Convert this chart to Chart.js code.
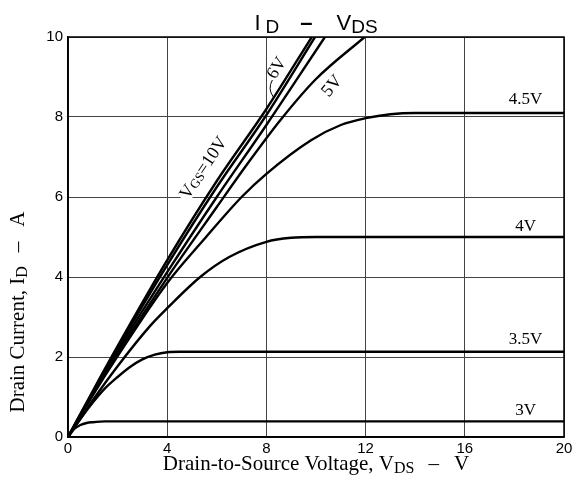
<!DOCTYPE html>
<html>
<head>
<meta charset="utf-8">
<script src="https://cdn.jsdelivr.net/npm/chart.js@4.4.1/dist/chart.umd.min.js"></script>
<style>
  html, body { margin: 0; padding: 0; background: #fff; }
  #wrap { width: 576px; height: 489px; }
</style>
</head>
<body>
<div id="wrap"><canvas id="idVdsChart" width="576" height="489"></canvas></div>
<script>
// axis ticks
const xTicks = [0, 4, 8, 12, 16, 20];
const yTicks = [0, 2, 4, 6, 8, 10];

// I_D (A) against V_DS (V), one pair of arrays per gate voltage
const vgs10X = [0, 1, 2, 4, 6, 8, 9.83];
const vgs10Y = [0, 1.15, 2.27, 4.42, 6.4, 8.2, 10];
const vgs8X = [0, 1, 2, 4, 6, 8, 9.96];
const vgs8Y = [0, 1.13, 2.22, 4.3, 6.25, 8.05, 10];
const vgs6X = [0, 1, 2, 4, 6, 8, 10.36];
const vgs6Y = [0, 1.1, 2.15, 4.12, 6.0, 7.8, 10];
const vgs5X = [0, 1, 2, 4, 6, 7.2, 8.6, 10, 11.96];
const vgs5Y = [0, 1.07, 2.08, 3.98, 5.75, 6.8, 7.95, 8.95, 10];
const vgs45X = [0, 1, 2, 4, 5.47, 7, 8, 9.8, 11, 12, 13, 14, 20];
const vgs45Y = [0, 1.04, 2.02, 3.85, 4.93, 6.0, 6.58, 7.42, 7.8, 7.97, 8.07, 8.1, 8.1];
const vgs4X = [0, 1, 2, 3.33, 4, 5.33, 6.5, 8, 9, 10, 20];
const vgs4Y = [0, 0.92, 1.77, 2.79, 3.22, 4.0, 4.5, 4.88, 4.98, 5.0, 5.0];
const vgs35X = [0, 0.5, 1, 1.5, 2, 2.5, 3, 3.5, 4, 4.5, 20];
const vgs35Y = [0, 0.45, 0.86, 1.22, 1.5, 1.75, 1.94, 2.06, 2.12, 2.13, 2.13];
const vgs3X = [0, 0.25, 0.5, 0.75, 1, 1.5, 20];
const vgs3Y = [0, 0.2, 0.3, 0.35, 0.37, 0.39, 0.39];

const SERIF = '"Liberation Serif", "Times New Roman", serif';
const SANS = '"Liberation Sans", Arial, sans-serif';

function toPoints(xs, ys) {
    return xs.map((x, i) => ({ x: x, y: ys[i] }));
}

function curve(label, xs, ys) {
    return {
        label: label,
        data: toPoints(xs, ys),
        showLine: true,
        borderColor: '#000',
        borderWidth: 2.4,
        pointRadius: 0,
        cubicInterpolationMode: 'monotone',
        fill: false
    };
}

// text made of pieces (for subscripts)
function drawParts(ctx, parts, x, y, align) {
    let total = 0;
    parts.forEach(p => {
        ctx.font = (p.bold ? 'bold ' : '') + p.size + 'px ' + p.family;
        p.w = ctx.measureText(p.t).width;
        total += p.w + (p.gap || 0);
    });
    let cx = align === 'center' ? x - total / 2 : x;
    parts.forEach(p => {
        ctx.font = (p.bold ? 'bold ' : '') + p.size + 'px ' + p.family;
        cx += p.gap || 0;
        ctx.fillText(p.t, cx, y + (p.dy || 0));
        cx += p.w;
    });
    return total;
}

const annotations = {
    id: 'annotations',
    afterDraw(chart) {
        const ctx = chart.ctx;
        const a = chart.chartArea;
        const sx = chart.scales.x;
        const sy = chart.scales.y;
        ctx.save();

        // frame
        ctx.strokeStyle = '#000';
        ctx.lineWidth = 1.5;
        ctx.strokeRect(a.left, a.top, a.right - a.left, a.bottom - a.top);

        ctx.fillStyle = '#000';
        ctx.textBaseline = 'alphabetic';

        // title
        drawParts(ctx, [
            { t: 'I', size: 22, family: SANS },
            { t: 'D', size: 19, family: SANS, dy: 3, gap: 5 },
            { t: '\u2013', size: 22, family: SANS, bold: true, gap: 21 },
            { t: 'V', size: 22, family: SANS, gap: 24 },
            { t: 'DS', size: 19, family: SANS, dy: 3 }
        ], (a.left + a.right) / 2, 30, 'center');

        // x axis title
        drawParts(ctx, [
            { t: 'Drain-to-Source Voltage, V', size: 21, family: SERIF },
            { t: 'DS', size: 16, family: SERIF, dy: 3 },
            { t: '\u2013', size: 21, family: SERIF, gap: 14 },
            { t: 'V', size: 21, family: SERIF, gap: 15 }
        ], (a.left + a.right) / 2, 470, 'center');

        // y axis title
        ctx.save();
        ctx.translate(24, 312);
        ctx.rotate(-Math.PI / 2);
        drawParts(ctx, [
            { t: 'Drain Current, I', size: 21, family: SERIF },
            { t: 'D', size: 16, family: SERIF, dy: 3 },
            { t: '\u2013', size: 21, family: SERIF, gap: 14 },
            { t: 'A', size: 21, family: SERIF, gap: 15 }
        ], 0, 0, 'center');
        ctx.restore();

        // VGS=10V label along the steep lines, with white ground
        ctx.save();
        ctx.translate(sx.getPixelForValue(5.48), sy.getPixelForValue(6.72));
        ctx.rotate(-56 * Math.PI / 180);
        const vgsParts = [
            { t: 'V', size: 18, family: SERIF },
            { t: 'GS', size: 13, family: SERIF, dy: 2 },
            { t: '=10V', size: 18, family: SERIF }
        ];
        let w = 0;
        vgsParts.forEach(p => { ctx.font = p.size + 'px ' + p.family; w += ctx.measureText(p.t).width; });
        ctx.fillStyle = '#fff';
        ctx.fillRect(-w / 2 - 2, -7, w + 4, 14);
        ctx.fillStyle = '#000';
        ctx.textBaseline = 'middle';
        drawParts(ctx, vgsParts, 0, 0, 'center');
        ctx.restore();

        // 6V label and its little hook
        ctx.save();
        ctx.translate(sx.getPixelForValue(8.43), sy.getPixelForValue(9.22));
        ctx.rotate(-58 * Math.PI / 180);
        ctx.textBaseline = 'middle';
        ctx.textAlign = 'center';
        ctx.font = '18px ' + SERIF;
        ctx.fillText('6V', 0, 0);
        ctx.restore();
        ctx.beginPath();
        ctx.lineWidth = 1;
        const hx = sx.getPixelForValue(8.2);
        const hy = sy.getPixelForValue(8.55);
        ctx.moveTo(hx + 2, hy + 2);
        ctx.quadraticCurveTo(hx - 4, hy - 6, hx + 1, hy - 15);
        ctx.stroke();

        // 5V label
        ctx.save();
        ctx.translate(sx.getPixelForValue(10.65), sy.getPixelForValue(8.77));
        ctx.rotate(-50 * Math.PI / 180);
        ctx.textBaseline = 'middle';
        ctx.textAlign = 'center';
        ctx.font = '18px ' + SERIF;
        ctx.fillText('5V', 0, 0);
        ctx.restore();

        // right-hand labels
        ctx.textAlign = 'center';
        ctx.textBaseline = 'middle';
        ctx.font = '17px ' + SERIF;
        [['4.5V', 8.43], ['4V', 5.25], ['3.5V', 2.43], ['3V', 0.65]].forEach(l => {
            ctx.fillText(l[0], sx.getPixelForValue(18.45), sy.getPixelForValue(l[1]));
        });

        ctx.restore();
    }
};

new Chart(document.getElementById('idVdsChart').getContext('2d'), {
    type: 'scatter',
    data: {
        datasets: [
            curve('VGS=10V', vgs10X, vgs10Y),
            curve('8V', vgs8X, vgs8Y),
            curve('6V', vgs6X, vgs6Y),
            curve('5V', vgs5X, vgs5Y),
            curve('4.5V', vgs45X, vgs45Y),
            curve('4V', vgs4X, vgs4Y),
            curve('3.5V', vgs35X, vgs35Y),
            curve('3V', vgs3X, vgs3Y)
        ]
    },
    options: {
        responsive: false,
        animation: false,
        devicePixelRatio: 1,
        layout: { padding: { top: 37, right: 12, left: 0, bottom: 0 } },
        plugins: {
            legend: { display: false },
            tooltip: { enabled: false },
            title: { display: false }
        },
        scales: {
            x: {
                type: 'linear',
                min: xTicks[0],
                max: xTicks[xTicks.length - 1],
                afterBuildTicks: s => { s.ticks = xTicks.map(v => ({ value: v })); },
                afterFit: s => { s.height = 52; },
                grid: { color: '#444', lineWidth: 1, drawTicks: false },
                border: { color: '#000', width: 1.5 },
                ticks: {
                    padding: 3,
                    maxRotation: 0,
                    color: '#000',
                    font: { family: SANS, size: 15 }
                }
            },
            y: {
                type: 'linear',
                min: yTicks[0],
                max: yTicks[yTicks.length - 1],
                afterBuildTicks: s => { s.ticks = yTicks.map(v => ({ value: v })); },
                afterFit: s => { s.width = 68; },
                grid: { color: '#444', lineWidth: 1, drawTicks: false },
                border: { color: '#000', width: 1.5 },
                ticks: {
                    padding: 5,
                    color: '#000',
                    font: { family: SANS, size: 15 }
                }
            }
        }
    },
    plugins: [annotations]
});
</script>
</body>
</html>
